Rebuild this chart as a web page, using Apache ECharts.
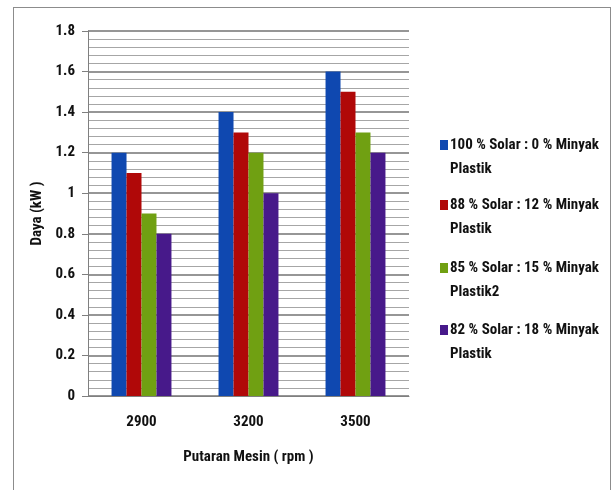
<!DOCTYPE html>
<html>
<head>
<meta charset="utf-8">
<script src="https://cdn.jsdelivr.net/npm/echarts@6/dist/echarts.min.js"></script>
<style>
html,body{margin:0;padding:0;background:#fff;}
#frame{position:absolute;left:13px;top:7px;width:598px;height:490px;border:1px solid #8c8c8c;border-bottom:none;box-sizing:border-box;}
#chart{position:absolute;left:0;top:0;width:614px;height:490px;}
</style>
</head>
<body>
<div id="frame"></div>
<div id="chart"></div>
<script>
var categories = ['2900', '3200', '3500'];
var seriesNames = [
  '100 % Solar : 0 % Minyak Plastik',
  '88 % Solar : 12 % Minyak Plastik',
  '85 % Solar : 15 % Minyak Plastik2',
  '82 % Solar : 18 % Minyak Plastik'
];
var legendLines = [
  '100 % Solar : 0 % Minyak\nPlastik',
  '88 % Solar : 12 % Minyak\nPlastik',
  '85 % Solar : 15 % Minyak\nPlastik2',
  '82 % Solar : 18 % Minyak\nPlastik'
];
var solar100 = [1.2, 1.4, 1.6];
var solar88 = [1.1, 1.3, 1.5];
var solar85 = [0.9, 1.2, 1.3];
var solar82 = [0.8, 1.0, 1.2];
var yMin = 0, yMax = 1.8, yStep = 0.2;
var colors = ['#0f48b0', '#b00808', '#70a012', '#47198a'];

var FONT = "'Roboto Condensed','Open Sans Condensed',sans-serif";
var FS = 15;
var values = [solar100, solar88, solar85, solar82];

var chart = echarts.init(document.getElementById('chart'), null, {renderer: 'canvas'});
// icon centre y for each legend entry
var legendIconY = [145, 205, 268, 330];
var LH = 24;
var legends = seriesNames.map(function (n, i) {
  return {
    left: 440,
    top: legendIconY[i] - 1.5 * LH,
    orient: 'vertical',
    data: [n],
    icon: 'rect',
    itemWidth: 8,
    itemHeight: 10,
    itemGap: 0,
    padding: 0,
    selectedMode: false,
    formatter: function () { return ' \n' + legendLines[i]; },
    textStyle: {
      fontFamily: FONT, fontSize: FS, fontWeight: 'bold', color: '#111',
      lineHeight: LH, padding: [0, 0, 0, -3]
    }
  };
});

chart.setOption({
  animation: false,
  color: colors,
  grid: {left: 88, right: 205, top: 31, bottom: 94, containLabel: false},
  legend: legends,
  xAxis: {
    type: 'category',
    data: categories,
    name: 'Putaran Mesin ( rpm )',
    nameLocation: 'middle',
    nameGap: 54,
    nameTextStyle: {fontFamily: FONT, fontSize: FS, fontWeight: 'bold', color: '#111'},
    axisLine: {show: true, lineStyle: {color: '#7f7f7f', width: 1}},
    axisTick: {show: false},
    axisLabel: {fontFamily: FONT, fontSize: FS, fontWeight: 'bold', color: '#111', margin: 19}
  },
  yAxis: {
    type: 'value',
    min: yMin, max: yMax, interval: yStep,
    name: 'Daya (kW )',
    nameLocation: 'middle',
    nameGap: 34,
    nameTextStyle: {fontFamily: FONT, fontSize: FS, fontWeight: 'bold', color: '#111'},
    axisLine: {show: true, lineStyle: {color: '#7f7f7f', width: 1}},
    axisTick: {show: true, length: 6, lineStyle: {color: '#7f7f7f'}},
    minorTick: {show: false, splitNumber: 5},
    axisLabel: {
      fontFamily: FONT, fontSize: FS, fontWeight: 'bold', color: '#111', margin: 13,
      formatter: function (v) { return String(Math.round(v * 10) / 10); }
    },
    splitLine: {show: true, lineStyle: {color: '#737373', width: 1.5}},
    minorSplitLine: {show: true, lineStyle: {color: '#a6a6a6', width: 1}}
  },
  series: values.map(function (d, i) {
    return {
      name: seriesNames[i],
      type: 'bar',
      data: d,
      barGap: '0%',
      barCategoryGap: '44%'
    };
  })
});
</script>
</body>
</html>
